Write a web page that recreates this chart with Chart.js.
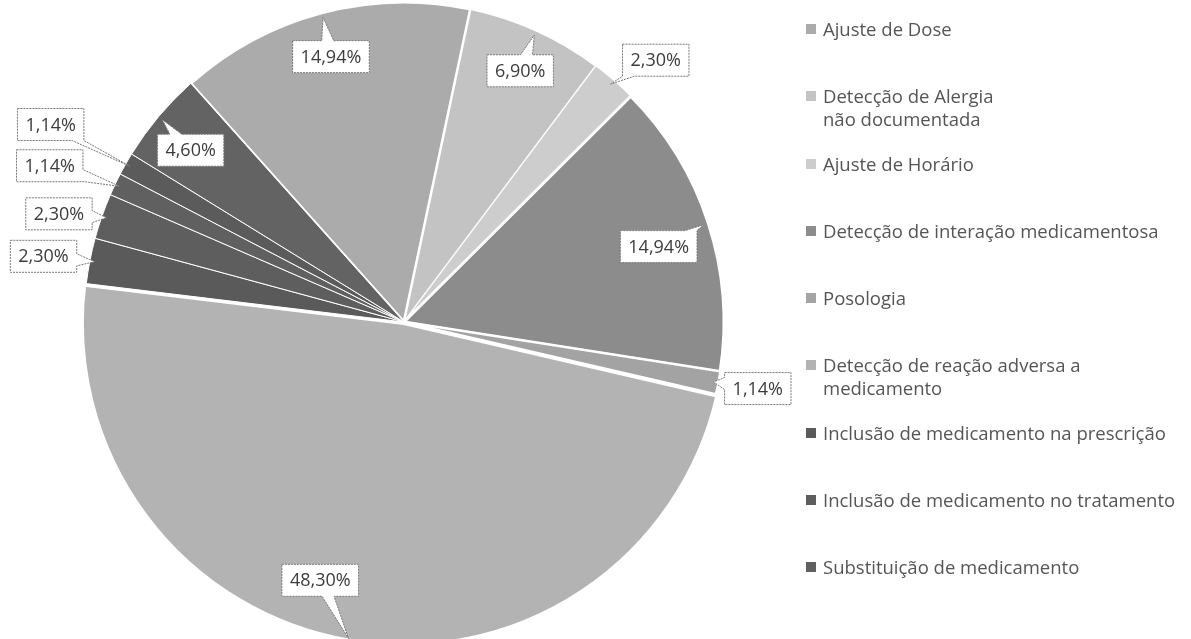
<!DOCTYPE html>
<html>
<head>
<meta charset="utf-8">
<script src="https://cdn.jsdelivr.net/npm/chart.js@4"></script>
<style>
  html, body { margin: 0; padding: 0; background: #fff; }
  #wrap { position: relative; width: 1191px; height: 639px; }
  #grafico { position: absolute; left: 0; top: 0; }
  #legenda {
    position: absolute; left: 806px; top: 17px; margin: 0; padding: 0; list-style: none;
    font-family: "Open Sans", sans-serif; font-size: 18.5px; line-height: 23px; color: #555;
  }
  #legenda li { height: 67.25px; position: relative; padding-left: 17px; white-space: pre-line; }
  #legenda li .cor { position: absolute; left: 0; top: 7px; width: 10px; height: 10px; }
</style>
</head>
<body>
<div id="wrap">
  <canvas id="grafico" width="1191" height="639"></canvas>
  <ul id="legenda"></ul>
</div>
<script>
/*====== dados =======*/
const categorias = [
  'Ajuste de Dose',
  'Detecção de Alergia\nnão documentada',
  'Ajuste de Horário',
  'Detecção de interação medicamentosa',
  'Posologia',
  'Detecção de reação adversa a\nmedicamento',
  'Inclusão de medicamento na prescrição',
  'Inclusão de medicamento no tratamento',
  'Substituição de medicamento',
];

// percentuais de cada fatia (sentido horário)
const valores = [14.94, 6.90, 2.30, 14.94, 1.14, 48.30, 2.30, 2.30, 1.14, 1.14, 4.60];

/*====== estilo =======*/
const cores = ['#ababab', '#c3c3c3', '#cdcdcd', '#8c8c8c', '#a3a3a3', '#b3b3b3',
               '#5a5a5a', '#5e5e5e', '#606060', '#5b5b5b', '#636363'];
const bordas = [3, 2, 1, 3, 2, 3, 1, 1, 1, 1, 1];
const destaque = [0, 0, 0, 0, 0, 6, 0, 0, 0, 0, 0];

// posição do balão: [desvio do ângulo em graus, fração do raio]
const posBalao = [
  [-0.5, 0.86], [0.4, 0.865], [2.9, 1.135], [1.5, 0.83], [-0.3, 1.125], [8.2, 0.83],
  [-0.7, 1.145], [-1.9, 1.13], [-1.7, 1.21], [-0.4, 1.265], [-1.1, 0.856]
];

function rotulo(v) {
  return v.toFixed(2).replace('.', ',') + '%';
}

/*====== balões com a porcentagem =======*/
function desenhaBalao(ctx, bx, by, w, h, tip) {
  const x0 = bx - w / 2, x1 = bx + w / 2, y0 = by - h / 2, y1 = by + h / 2;
  const dx = tip.x - bx, dy = tip.y - by;
  const m = 6;
  const lim = (v, a, b) => Math.max(a, Math.min(b, v));
  let pts;
  if (tip.x > x0 && tip.x < x1 && tip.y > y0 && tip.y < y1) {
    pts = [[x0, y0], [x1, y0], [x1, y1], [x0, y1]];
  } else if (Math.abs(dx) * h > Math.abs(dy) * w) {
    const iy = lim(by + dy * (w / 2) / Math.abs(dx), y0 + m, y1 - m);
    if (dx > 0) pts = [[x0, y0], [x1, y0], [x1, iy - m], [tip.x, tip.y], [x1, iy + m], [x1, y1], [x0, y1]];
    else pts = [[x0, y0], [x1, y0], [x1, y1], [x0, y1], [x0, iy + m], [tip.x, tip.y], [x0, iy - m]];
  } else {
    const ix = lim(bx + dx * (h / 2) / Math.abs(dy), x0 + m, x1 - m);
    if (dy > 0) pts = [[x0, y0], [x1, y0], [x1, y1], [ix + m, y1], [tip.x, tip.y], [ix - m, y1], [x0, y1]];
    else pts = [[x0, y0], [ix - m, y0], [tip.x, tip.y], [ix + m, y0], [x1, y0], [x1, y1], [x0, y1]];
  }
  ctx.beginPath();
  pts.forEach((p, i) => i ? ctx.lineTo(p[0], p[1]) : ctx.moveTo(p[0], p[1]));
  ctx.closePath();
  ctx.fillStyle = '#fff';
  ctx.fill();
  ctx.setLineDash([2, 1]);
  ctx.lineWidth = 1;
  ctx.strokeStyle = '#777';
  ctx.stroke();
  ctx.setLineDash([]);
}

const balaoPlugin = {
  id: 'balao',
  afterDatasetsDraw(chart) {
    const ctx = chart.ctx;
    const meta = chart.getDatasetMeta(0);
    ctx.save();
    ctx.font = '18px "Open Sans", sans-serif';
    meta.data.forEach((arc, i) => {
      const p = arc.getProps(['x', 'y', 'startAngle', 'endAngle', 'outerRadius'], true);
      const off = arc.options.offset || 0;
      const mid = (p.startAngle + p.endAngle) / 2;
      const cx = p.x + Math.cos(mid) * off;
      const cy = p.y + Math.sin(mid) * off;
      const tip = {
        x: cx + Math.cos(mid) * p.outerRadius * 0.985,
        y: cy + Math.sin(mid) * p.outerRadius * 0.985
      };
      const a = mid + posBalao[i][0] * Math.PI / 180;
      const bx = cx + Math.cos(a) * p.outerRadius * posBalao[i][1];
      const by = cy + Math.sin(a) * p.outerRadius * posBalao[i][1];
      const texto = rotulo(valores[i]);
      const w = ctx.measureText(texto).width + 16;
      desenhaBalao(ctx, bx, by, w, 32, tip);
      ctx.fillStyle = '#3c3c3c';
      ctx.textAlign = 'center';
      ctx.textBaseline = 'middle';
      ctx.fillText(texto, bx, by + 1);
    });
    ctx.restore();
  }
};

/*====== grafico =======*/
const grafico = new Chart(document.getElementById('grafico'), {
  type: 'pie',
  data: {
    labels: categorias,
    datasets: [{
      data: valores,
      backgroundColor: cores,
      borderColor: '#fff',
      borderWidth: bordas,
      offset: destaque,
    }]
  },
  options: {
    responsive: false,
    animation: false,
    rotation: 12 - valores[0] * 3.6,
    radius: 320,
    layout: { padding: { left: 0, right: 383, top: 5, bottom: 0 } },
    plugins: {
      legend: { display: false },
      tooltip: { enabled: false }
    }
  },
  plugins: [balaoPlugin]
});

/*====== legenda =======*/
const legenda = document.getElementById('legenda');
categorias.forEach((nome, i) => {
  const li = document.createElement('li');
  const cor = document.createElement('span');
  cor.className = 'cor';
  cor.style.background = cores[i];
  li.appendChild(cor);
  li.appendChild(document.createTextNode(nome));
  legenda.appendChild(li);
});
</script>
</body>
</html>
